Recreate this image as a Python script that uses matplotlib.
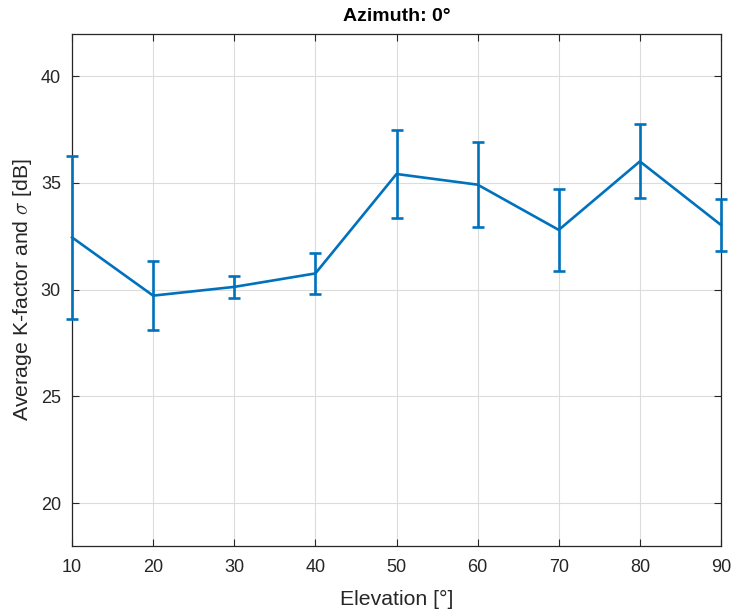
import matplotlib
matplotlib.use("Agg")
import matplotlib.pyplot as plt

# Average K-factor per elevation angle, with standard deviation as error bars
elevation = [10, 20, 30, 40, 50, 60, 70, 80, 90]
k_factor = [32.45, 29.72, 30.13, 30.76, 35.42, 34.92, 32.80, 36.01, 33.03]
sigma = [3.83, 1.62, 0.51, 0.95, 2.05, 1.99, 1.93, 1.73, 1.20]

x_ticks = [10, 20, 30, 40, 50, 60, 70, 80, 90]
y_ticks = [20, 25, 30, 35, 40]

plt.rcParams["font.family"] = ["Liberation Sans", "DejaVu Sans"]
plt.rcParams["mathtext.fontset"] = "cm"

text_col = "#262626"
line_col = "#0072BD"

fig = plt.figure(figsize=(7.34, 6.14), dpi=100)
ax = fig.add_axes([0.0981, 0.1112, 0.8842, 0.8341])

eb = ax.errorbar(elevation, k_factor, yerr=sigma, color=line_col, linewidth=1.9,
                 elinewidth=1.9, capsize=4.2, capthick=1.9, zorder=3)
# let the end error bars spill over the axes box
for artist in eb.lines[1] + eb.lines[2]:
    artist.set_clip_on(False)
eb.lines[0].set_clip_on(False)

ax.set_xlim(10, 90)
ax.set_ylim(18, 42)
ax.set_xticks(x_ticks)
ax.set_yticks(y_ticks)
ax.grid(True, color="#dcdcdc", linewidth=0.8)
ax.set_axisbelow(True)

ax.tick_params(direction="in", top=True, right=True, length=5, width=0.8,
               colors=text_col, labelsize=13)
ax.tick_params(axis="x", pad=9.5)
ax.tick_params(axis="y", pad=8)
for s in ax.spines.values():
    s.set_color(text_col)
    s.set_linewidth(0.9)

ax.set_xlabel("Elevation [°]", fontsize=15.3, color=text_col, labelpad=10)
ax.set_ylabel(r"Average K-factor and $\sigma$ [dB]", fontsize=15.3,
              color=text_col, labelpad=5)
ax.set_title("Azimuth: 0°", fontsize=14, fontweight="bold", color="black",
             pad=9)

fig.savefig("out.png", dpi=100)
